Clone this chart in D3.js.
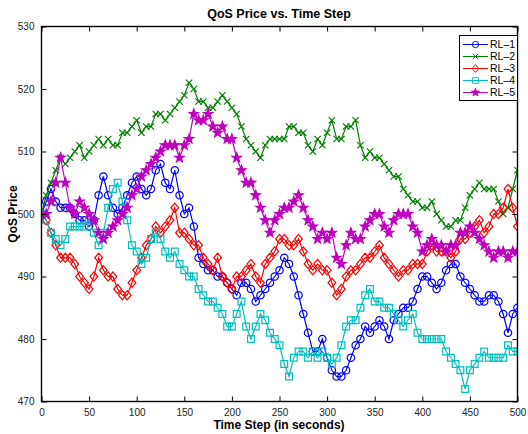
<!DOCTYPE html>
<html>
<head>
<meta charset="utf-8">
<script src="https://cdn.jsdelivr.net/npm/d3@7"></script>
<style>
  html, body { margin: 0; padding: 0; background: #ffffff; }
  svg { display: block; font-family: "Liberation Sans", Arial, Helvetica, sans-serif; }
</style>
</head>
<body>
<svg id="chart" width="528" height="434"></svg>
<script>
// Time steps (seconds), sampled every 5 s
const timeSteps = d3.range(0, 501, 5);

// QoS price of each learner at the time steps above
const rl1 = [500,502,504,502,501,501,501,500,499,499,498,499,503,506,503,501,500,501,503,505,
             506,504,503,504,507,508,505,504,507,503,500,501,498,493,492,491,491,490,490,489,
             488,487,489,489,488,486,487,488,489,490,491,493,492,490,487,484,481,478,478,480,
             477,475,474,474,475,477,479,480,482,481,482,483,482,480,483,484,485,485,486,488,
             490,490,489,488,489,491,492,492,490,489,488,487,486,486,487,487,486,484,481,484,485];
const rl2 = [500,503,505,507,509,508,509,510,511,509,510,511,512,511,512,511,511,513,513,514,
             515,513,514,514,516,516,515,516,517,518,519,521,520,518,518,517,517,518,519,518,
             517,516,514,512,511,510,509,511,512,512,512,512,514,514,513,513,511,510,512,511,
             513,515,512,512,514,514,515,511,509,510,509,509,508,507,506,506,504,503,502,502,
             501,501,502,500,499,498,498,499,499,501,503,504,505,504,504,504,502,500,501,504,507];
const rl3 = [500,499,497,495,493,493,493,492,490,489,488,490,493,491,490,490,488,487,487,489,
             491,493,495,496,498,497,498,499,501,497,497,496,495,495,493,492,491,493,490,489,
             488,490,490,491,492,490,489,492,493,494,496,496,495,495,496,494,492,491,492,491,
             491,489,487,488,490,491,491,492,493,493,494,495,493,492,491,490,491,491,492,492,
             492,494,495,494,494,494,493,494,496,496,497,498,499,497,498,500,500,501,504,501,498];
const rl4 = [500,499,497,496,495,496,498,498,498,498,499,497,495,497,501,504,505,502,499,495,
             494,492,493,496,497,496,494,493,494,492,491,490,490,488,487,486,486,485,484,482,
             482,484,486,482,480,482,484,483,481,480,479,476,474,477,478,478,477,478,477,478,
             477,476,477,479,482,483,483,485,487,488,486,486,485,485,484,483,482,483,484,481,
             480,480,480,480,480,478,477,476,475,472,475,476,477,478,477,477,477,477,479,478,478];
const rl5 = [500,500,502,505,509,505,501,500,502,501,500,499,497,496,497,498,499,500,501,503,
             504,506,507,508,509,510,511,511,511,509,511,512,516,515,515,516,514,513,514,512,
             512,509,507,505,505,503,501,499,497,499,500,501,501,502,503,501,499,498,496,497,
             496,497,493,492,495,497,496,496,498,499,500,500,498,497,499,500,500,500,498,497,
             494,495,496,495,495,494,495,495,497,497,498,497,496,495,494,493,494,494,493,494,494];

const seriesNames = ["RL\u20131", "RL\u20132", "RL\u20133", "RL\u20134", "RL\u20135"];
const seriesValues = [rl1, rl2, rl3, rl4, rl5];
const seriesColors = ["#0000ff", "#008000", "#ff0000", "#00bfbf", "#bf00bf"];
const seriesMarkers = ["circle", "x", "diamond", "square", "star"];

const xTicks = d3.range(0, 501, 50);
const yTicks = d3.range(470, 531, 10);

const svg = d3.select("#chart");
const W = 528, H = 434;
svg.append("rect").attr("width", W).attr("height", H).attr("fill", "#ffffff");

const plot = { left: 41.5, right: 517.5, top: 26.5, bottom: 401.5 };

const x = d3.scaleLinear().domain([0, 500]).range([plot.left, plot.right]);
const y = d3.scaleLinear().domain([470, 530]).range([plot.bottom, plot.top]);

// Marker outlines, centred on the origin
function markerPath(kind) {
  switch (kind) {
    case "circle": {
      const p = d3.path(); p.arc(0, 0, 3.7, 0, 2 * Math.PI); return p.toString();
    }
    case "x": return "M-3.2,-3.2L3.2,3.2M-3.2,3.2L3.2,-3.2";
    case "diamond": return "M0,-4.6L3.9,0L0,4.6L-3.9,0Z";
    case "square": return "M-3.4,-3.4H3.4V3.4H-3.4Z";
    case "star": {
      const pts = [];
      for (let i = 0; i < 10; i++) {
        const r = i % 2 === 0 ? 5 : 2.1;
        const a = -Math.PI / 2 + i * Math.PI / 5;
        pts.push([r * Math.cos(a), r * Math.sin(a)]);
      }
      return "M" + pts.map(p => p[0].toFixed(2) + "," + p[1].toFixed(2)).join("L") + "Z";
    }
  }
}

// Clip the data to the axes box
svg.append("clipPath").attr("id", "plotClip")
  .append("rect")
  .attr("x", plot.left).attr("y", plot.top)
  .attr("width", plot.right - plot.left).attr("height", plot.bottom - plot.top);

const dataLayer = svg.append("g").attr("clip-path", "url(#plotClip)");

const line = d3.line()
  .x((d, i) => x(timeSteps[i]))
  .y(d => y(d));

seriesValues.forEach((vals, si) => {
  const color = seriesColors[si];
  const kind = seriesMarkers[si];
  const g = dataLayer.append("g");
  g.append("path")
    .attr("d", line(vals))
    .attr("fill", "none")
    .attr("stroke", color)
    .attr("stroke-width", 1.2);
  const mp = markerPath(kind);
  g.selectAll("path.mk")
    .data(vals)
    .join("path")
    .attr("class", "mk")
    .attr("d", mp)
    .attr("transform", (d, i) => `translate(${x(timeSteps[i])},${y(d)})`)
    .attr("fill", kind === "star" ? color : "none")
    .attr("stroke", color)
    .attr("stroke-width", 1.2);
});

// Axes with inward ticks on all four sides
const axes = svg.append("g");
const tickLen = 5;

axes.append("g")
  .attr("transform", `translate(0,${plot.bottom})`)
  .call(d3.axisBottom(x).tickValues(xTicks).tickSizeInner(-tickLen).tickSizeOuter(0).tickPadding(7))
  .call(g => g.select(".domain").remove());
axes.append("g")
  .attr("transform", `translate(0,${plot.top})`)
  .call(d3.axisTop(x).tickValues(xTicks).tickSizeInner(-tickLen).tickSizeOuter(0).tickFormat(""))
  .call(g => g.select(".domain").remove());
axes.append("g")
  .attr("transform", `translate(${plot.left},0)`)
  .call(d3.axisLeft(y).tickValues(yTicks).tickSizeInner(-tickLen).tickSizeOuter(0).tickPadding(7))
  .call(g => g.select(".domain").remove());
axes.append("g")
  .attr("transform", `translate(${plot.right},0)`)
  .call(d3.axisRight(y).tickValues(yTicks).tickSizeInner(-tickLen).tickSizeOuter(0).tickFormat(""))
  .call(g => g.select(".domain").remove());

axes.selectAll(".tick line").attr("stroke", "#000").attr("stroke-width", 1);
axes.selectAll(".tick text")
  .attr("fill", "#222")
  .style("font-size", "10px")
  .style("font-family", "'Liberation Sans', Arial, Helvetica, sans-serif");

axes.append("rect")
  .attr("x", plot.left).attr("y", plot.top)
  .attr("width", plot.right - plot.left).attr("height", plot.bottom - plot.top)
  .attr("fill", "none").attr("stroke", "#000").attr("stroke-width", 1.4);

// Title and axis labels
svg.append("text")
  .attr("x", 279).attr("y", 18)
  .attr("text-anchor", "middle")
  .style("font-size", "12.5px").style("font-weight", "bold")
  .text("QoS Price vs. Time Step");

svg.append("text")
  .attr("x", 279).attr("y", 429)
  .attr("text-anchor", "middle")
  .style("font-size", "12px").style("font-weight", "bold")
  .text("Time Step (in seconds)");

svg.append("text")
  .attr("transform", `translate(17,${(plot.top + plot.bottom) / 2}) rotate(-90)`)
  .attr("text-anchor", "middle")
  .style("font-size", "12px").style("font-weight", "bold")
  .text("QoS Price");

// Legend
const legend = svg.append("g");
legend.append("rect")
  .attr("x", 459.5).attr("y", 35.5).attr("width", 58).attr("height", 65)
  .attr("fill", "#fff").attr("stroke", "#000").attr("stroke-width", 1);

seriesNames.forEach((name, i) => {
  const ly = 44.5 + i * 12;
  legend.append("line")
    .attr("x1", 463).attr("x2", 488).attr("y1", ly).attr("y2", ly)
    .attr("stroke", seriesColors[i]).attr("stroke-width", 1);
  legend.append("path")
    .attr("d", markerPath(seriesMarkers[i]))
    .attr("transform", `translate(475.5,${ly}) scale(0.85)`)
    .attr("fill", seriesMarkers[i] === "star" ? seriesColors[i] : "none")
    .attr("stroke", seriesColors[i]).attr("stroke-width", 1.1);
  legend.append("text")
    .attr("x", 490).attr("y", ly + 3.8)
    .style("font-size", "10.5px")
    .text(name);
});
</script>
</body>
</html>
